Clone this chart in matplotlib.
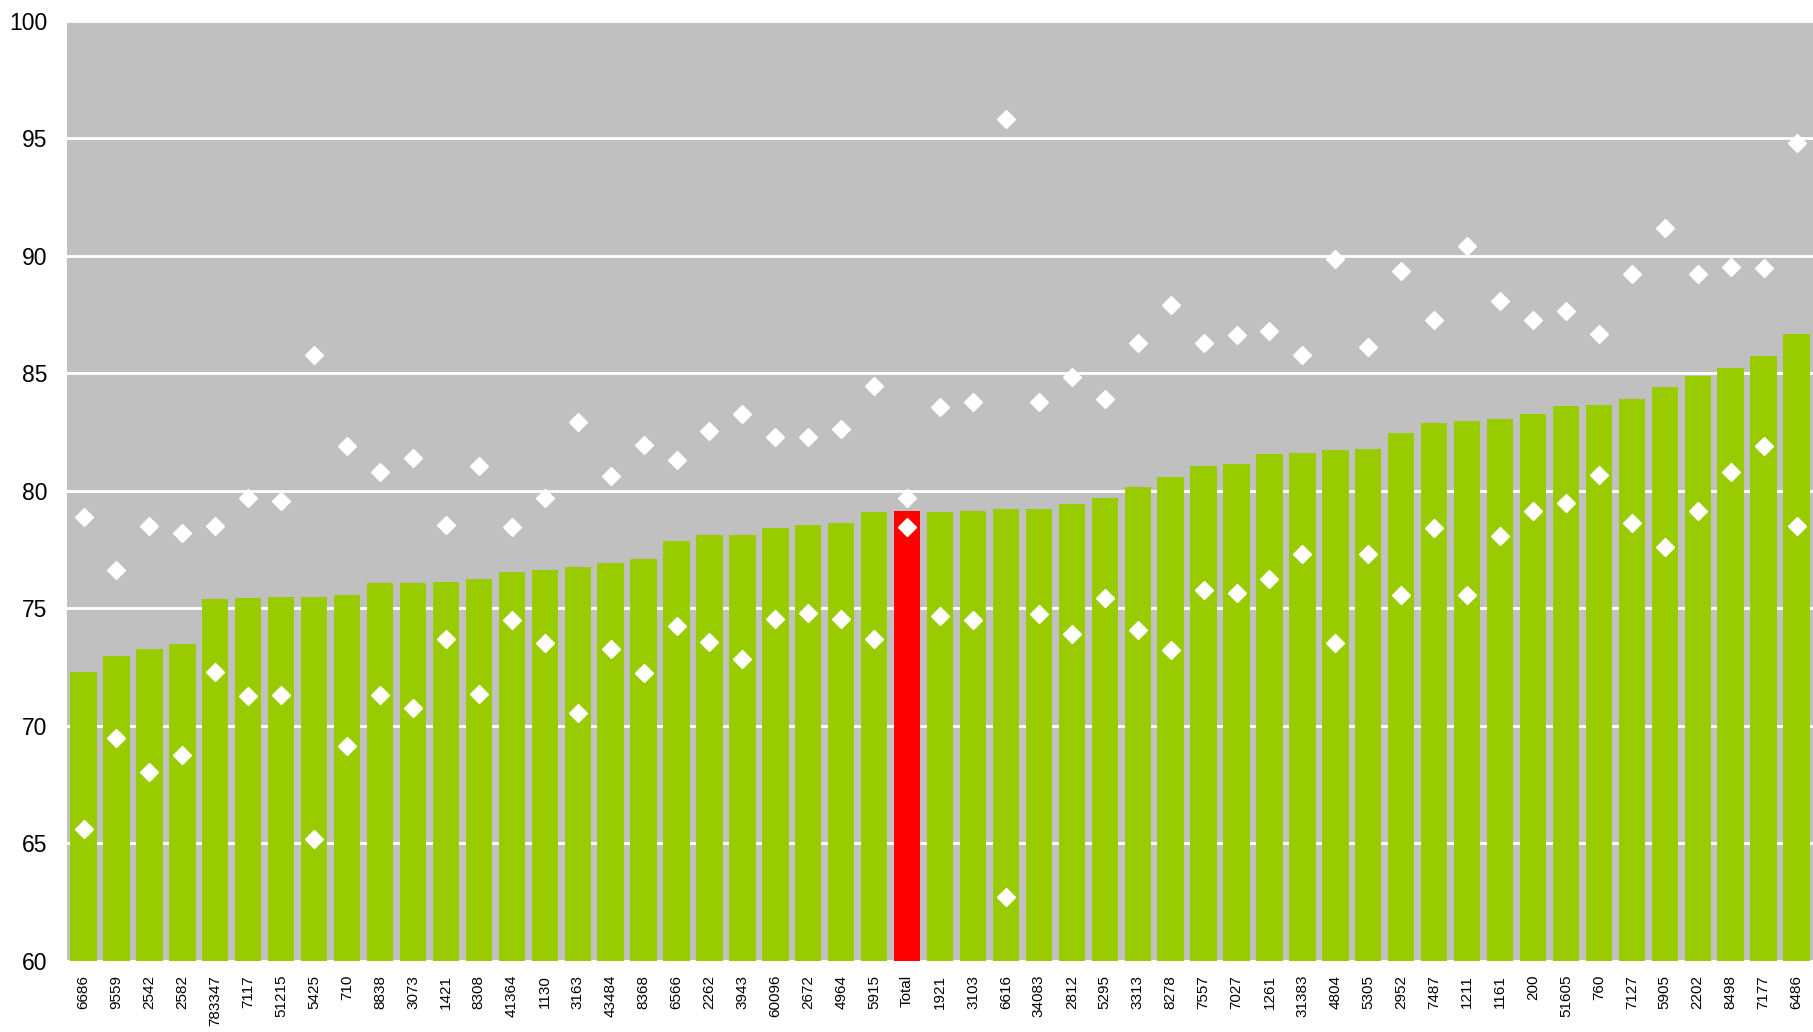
import matplotlib
matplotlib.use("Agg")
import matplotlib.pyplot as plt
import numpy as np

categories = ["6686", "9559", "2542", "2582", "783347", "7117", "51215", "5425", "710", "8838",
              "3073", "1421", "8308", "41364", "1130", "3163", "43484", "8368", "6566", "2262",
              "3943", "60096", "2672", "4964", "5915", "Total", "1921", "3103", "6616", "34083",
              "2812", "5295", "3313", "8278", "7557", "7027", "1261", "31383", "4804", "5305",
              "2952", "7487", "1211", "1161", "200", "51605", "760", "7127", "5905", "2202",
              "8498", "7177", "6486"]

bar_values = [72.30, 72.99, 73.28, 73.48, 75.40, 75.45, 75.50, 75.50, 75.55, 76.09,
              76.09, 76.14, 76.24, 76.53, 76.63, 76.78, 76.92, 77.12, 77.86, 78.11,
              78.11, 78.40, 78.55, 78.65, 79.09, 79.14, 79.09, 79.14, 79.24, 79.24,
              79.43, 79.68, 80.17, 80.57, 81.06, 81.16, 81.55, 81.60, 81.75, 81.80,
              82.48, 82.88, 82.97, 83.07, 83.27, 83.62, 83.67, 83.91, 84.40, 84.90,
              85.24, 85.73, 86.67]

upper_values = [78.89, 76.63, 78.50, 78.20, 78.50, 79.68, 79.58, 85.78, 81.89, 80.81,
                81.40, 78.55, 81.06, 78.45, 79.68, 82.93, 80.61, 81.94, 81.30, 82.53,
                83.27, 82.29, 82.29, 82.63, 84.45, 79.68, 83.57, 83.76, 95.82, 83.76,
                84.85, 83.91, 86.27, 87.90, 86.27, 86.62, 86.81, 85.78, 89.86, 86.13,
                89.37, 87.26, 90.41, 88.09, 87.26, 87.65, 86.67, 89.22, 91.19, 89.22,
                89.52, 89.47, 94.78]

lower_values = [65.61, 69.50, 68.02, 68.76, 72.30, 71.27, 71.32, 65.17, 69.15, 71.32,
                70.77, 73.68, 71.37, 74.51, 73.53, 70.57, 73.28, 72.25, 74.27, 73.58,
                72.84, 74.56, 74.81, 74.56, 73.68, 78.45, 74.66, 74.51, 62.71, 74.76,
                73.92, 75.45, 74.07, 73.23, 75.79, 75.65, 76.24, 77.32, 73.53, 77.32,
                75.55, 78.40, 75.55, 78.06, 79.14, 79.48, 80.66, 78.65, 77.61, 79.14,
                80.81, 81.89, 78.50]

y_ticks = [60, 65, 70, 75, 80, 85, 90, 95, 100]

GREEN = "#99CC00"
RED = "#FF0000"
BG = "#C0C0C0"

plt.rcParams['font.family'] = ['Liberation Sans', 'DejaVu Sans']

fig = plt.figure(figsize=(18.13, 10.32), dpi=100)
ax = fig.add_axes([0.037, 0.0688, 0.963, 0.9112])
ax.set_facecolor(BG)

x = np.arange(len(categories))
colors = [RED if c == "Total" else GREEN for c in categories]
ax.bar(x, np.array(bar_values) - 60, bottom=60, width=0.8, color=colors, zorder=2)

ax.plot(x, upper_values, linestyle="none", marker="D", markersize=9.5,
        markerfacecolor="white", markeredgecolor="white", zorder=3)
ax.plot(x, lower_values, linestyle="none", marker="D", markersize=9.5,
        markerfacecolor="white", markeredgecolor="white", zorder=3)

ax.set_xlim(-0.5, len(categories) - 0.5)
ax.set_ylim(60, 100)
ax.set_yticks(y_ticks)
ax.set_yticklabels([str(t) for t in y_ticks], fontsize=16.5)
ax.set_xticks(x)
ax.set_xticklabels(categories, rotation=90, fontsize=11)
ax.tick_params(axis="both", length=0, colors="black")
ax.tick_params(axis="y", pad=14)
ax.tick_params(axis="x", pad=10)
ax.yaxis.grid(True, color="white", linewidth=2, zorder=1)
ax.set_axisbelow(True)
for s in ax.spines.values():
    s.set_visible(False)

fig.savefig("out.png", dpi=100, facecolor="white")
